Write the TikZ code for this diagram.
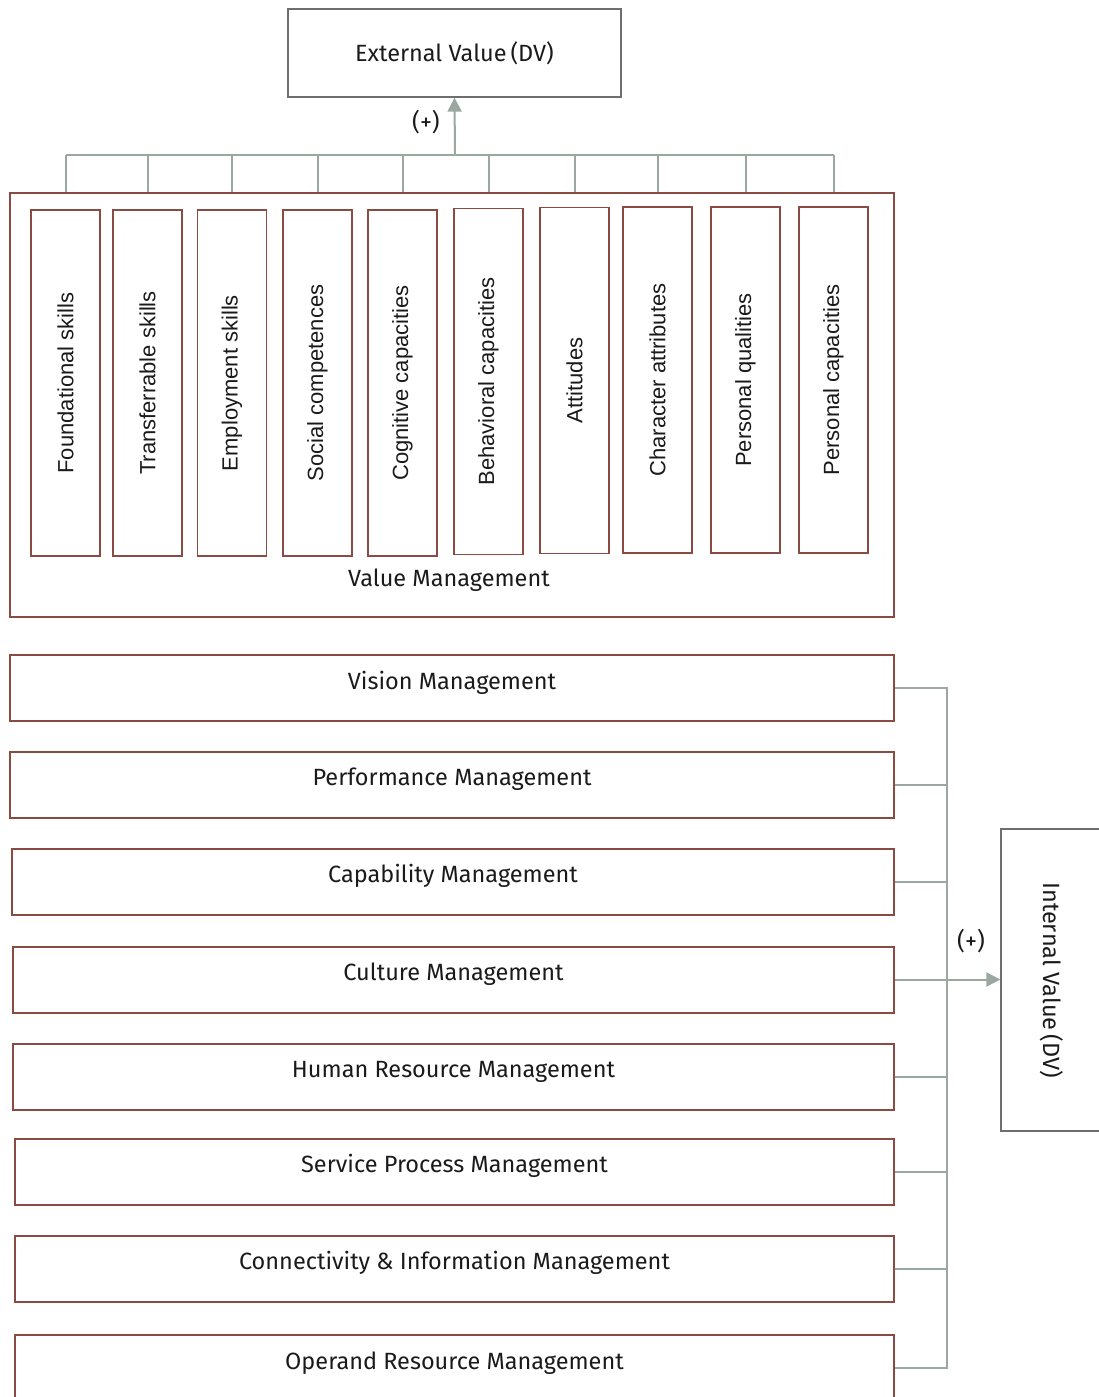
\documentclass[tikz,border=0pt]{standalone}
\usepackage{fontspec}
\setmainfont{Fira Sans}
\newfontfamily\skillfont{Liberation Sans}
\usetikzlibrary{arrows.meta}
\definecolor{boxred}{HTML}{8B4A42}
\definecolor{linkgray}{HTML}{9AA89F}
\definecolor{dvgray}{HTML}{6E6E6E}
\definecolor{inkblack}{HTML}{1A1A1A}

\begin{document}
\begin{tikzpicture}[x=1pt,y=-1pt,
    dvbox/.style={draw=dvgray,line width=1.3pt,text=inkblack,font=\fontsize{23.5}{28}\selectfont},
    skillbox/.style={draw=boxred,line width=1.5pt,rotate=90,minimum width=346pt,minimum height=69pt,
      inner sep=0pt,text=inkblack,font=\skillfont\fontsize{22}{26}\selectfont},
    mgmtbox/.style={draw=boxred,line width=2pt,minimum height=66pt,inner sep=0pt,
      text height=16pt,text depth=13.5pt,text=inkblack,font=\fontsize{23.5}{28}\selectfont},
    link/.style={draw=linkgray,line width=2pt},
    sign/.style={text=inkblack,font=\fontsize{24}{28}\selectfont,inner sep=0pt}]
  \useasboundingbox (0,0) rectangle (1099,1397);

  \node[dvbox,minimum width=333pt,minimum height=88pt] (ext) at (454.5,53) {External Value\,(DV)};
  \node[draw=boxred,line width=2pt,minimum width=884pt,minimum height=424pt] (vm) at (452,405) {};
  \node[sign,font=\fontsize{23.5}{28}\selectfont] (vmlabel) at (449,580) {Value Management};

  \foreach \n/\x/\y/\t in {s1/65.5/383/Foundational skills, s2/147.5/383/Transferrable skills,
      s3/232/383/Employment skills, s4/317.5/383/Social competences, s5/402.5/383/Cognitive capacities,
      s6/488.5/381.5/Behavioral capacities, s7/574.5/380.5/Attitudes, s8/657.5/380/Character attributes,
      s9/745.5/380/Personal qualities, s10/833.5/380/Personal capacities}
    \node[skillbox] (\n) at (\x,\y) {\t};

  \coordinate (bus) at (455,155);
  \draw[link] (s1.center |- bus) -- (s10.center |- bus);
  \foreach \n in {s1,s2,s3,s4,s5,s6,s7,s8,s9,s10}
    \draw[link] (\n.center |- vm.north) -- (\n.center |- bus);
  \draw[link,-{Triangle[length=14pt,width=14pt]}] (bus) -- (ext.south);
  \node[sign] (plustop) at (426,122) {(+)};

  \node[mgmtbox,minimum width=884pt] (vision) at (452,688) {Vision Management};
  \node[mgmtbox,minimum width=884pt] (perf) at (452,784.5) {Performance Management};
  \node[mgmtbox,minimum width=882pt] (capab) at (453,881.5) {Capability Management};
  \node[mgmtbox,minimum width=881pt] (culture) at (453.5,979.5) {Culture Management};
  \node[mgmtbox,minimum width=881pt] (hrm) at (453.5,1076.5) {Human Resource Management};
  \node[mgmtbox,minimum width=879pt] (service) at (454.5,1171.5) {Service Process Management};
  \node[mgmtbox,minimum width=879pt] (connect) at (454.5,1268.5) {Connectivity \& Information Management};
  \node[mgmtbox,minimum width=879pt] (operand) at (454.5,1368) {Operand Resource Management};

  \node[dvbox,rotate=-90,minimum width=302pt,minimum height=101pt] (intval) at (1051.5,980) {Internal Value\,(DV)};

  \coordinate (busx) at (947,0);
  \draw[link] (vision.east) -| (operand.east -| busx) -- (operand.east);
  \foreach \n in {perf,capab,hrm,service,connect}
    \draw[link] (\n.east) -- (\n.east -| busx);
  \draw[link,-{Triangle[length=14pt,width=14pt]}] (culture.east) -- (culture.east -| intval.south);
  \node[sign] (plusright) at (971,941) {(+)};
\end{tikzpicture}
\end{document}
